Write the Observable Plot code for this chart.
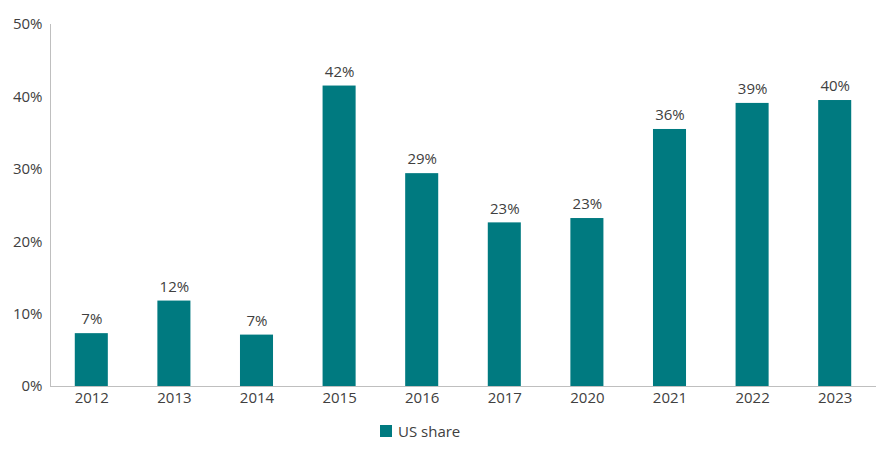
<!DOCTYPE html>
<html>
<head>
<meta charset="utf-8">
<script src="https://cdn.jsdelivr.net/npm/d3@7"></script>
<script src="https://cdn.jsdelivr.net/npm/@observablehq/plot@0.6"></script>
<style>
  body { margin: 0; background: #fff; font-family: "Open Sans", sans-serif; }
  #wrap { position: relative; width: 894px; height: 451px; }
  #legend { position: absolute; left: 380px; top: 421px; display: flex; align-items: center; font-size: 15px; color: #404040; }
  #legend .sw { width: 12px; height: 12px; background: #007A80; margin-right: 6px; }
</style>
</head>
<body>
<div id="wrap">
  <div id="chart"></div>
  <div id="legend"><div class="sw"></div><span>US share</span></div>
</div>
<script>
const years = ["2012","2013","2014","2015","2016","2017","2020","2021","2022","2023"];
const usShare = [7.3, 11.8, 7.1, 41.5, 29.4, 22.6, 23.2, 35.5, 39.1, 39.5];
const yTicks = [0, 10, 20, 30, 40, 50];
const seriesName = "US share";
const barColor = "#007A80";

const data = years.map((y, i) => ({year: y, value: usShare[i]}));

const chart = Plot.plot({
  width: 894,
  height: 415,
  marginLeft: 50,
  marginRight: 18,
  marginTop: 24,
  marginBottom: 29,
  style: {fontFamily: "Open Sans, sans-serif", fontSize: "15px", color: "#404040", background: "#fff"},
  x: {domain: years, paddingInner: 0.6, paddingOuter: 0.3, round: false, label: null},
  y: {domain: [0, 50], label: null},
  marks: [
    Plot.frame({anchor: "left", stroke: "#bfbfbf"}),
    Plot.barY(data, {x: "year", y: "value", fill: barColor}),
    Plot.text(data, {x: "year", y: "value", text: d => Math.round(d.value) + "%", dy: -14, fontSize: 15, fill: "#404040"}),
    Plot.axisY({ticks: yTicks, tickFormat: d => d + "%", tickSize: 0, tickPadding: 8, fontSize: 15, fill: "#404040"}),
    Plot.axisX({tickSize: 0, tickPadding: 6, fontSize: 15, fill: "#404040"}),
    Plot.ruleY([0], {stroke: "#bfbfbf"})
  ]
});
document.getElementById("chart").appendChild(chart);
</script>
</body>
</html>
